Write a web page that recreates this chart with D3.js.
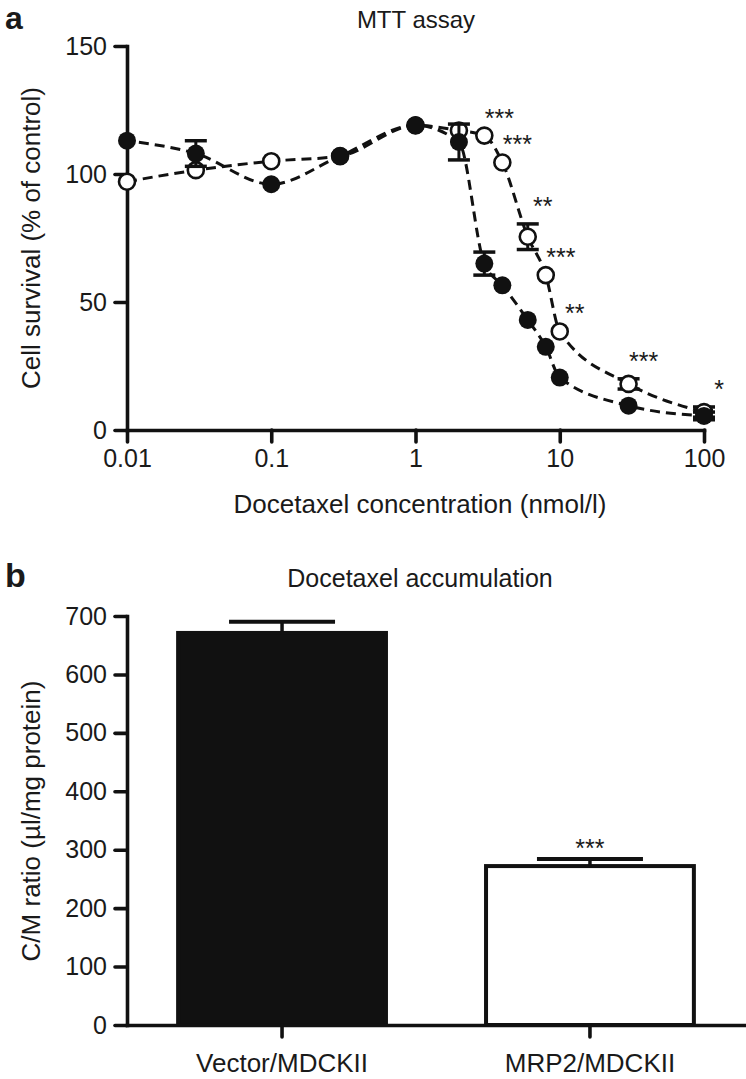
<!DOCTYPE html>
<html><head><meta charset="utf-8">
<script src="https://cdn.jsdelivr.net/npm/d3@7"></script>
<style>
html,body{margin:0;padding:0;background:#fff;}
svg text{font-family:"Liberation Sans",Arial,Helvetica,sans-serif;fill:#1a1a1a;}
</style></head>
<body>
<svg id="chart" width="746" height="1079"></svg>
<script>
// ---------- Panel a data ----------
const concentrations = [0.01, 0.03, 0.1, 0.3, 1, 2, 3, 4, 6, 8, 10, 30, 100];
const vectorSurvival = [113, 108, 96, 107, 119, 112.5, 65, 56.5, 43, 32.5, 20.5, 9.5, 5.5];
const vectorErr      = [0, 5, 0, 0, 0, 7, 4.5, 0, 0, 0, 0, 0, 1.5];
const mrp2Survival   = [97, 101.5, 105, 107, 119, 117, 115, 104.5, 75.5, 60.5, 38.5, 18, 7];
const mrp2Err        = [0, 0, 0, 0, 0, 0, 0, 0, 5, 0, 0, 2, 2];
const significance   = ['', '', '', '', '', '', '***', '***', '**', '***', '**', '***', '*'];
const xTickValues = [0.01, 0.1, 1, 10, 100];
const xTickLabels = ['0.01', '0.1', '1', '10', '100'];
const yTickValuesA = [0, 50, 100, 150];

// ---------- Panel b data ----------
const cellLines = ['Vector/MDCKII', 'MRP2/MDCKII'];
const cmRatio   = [671, 272];
const cmErr     = [19, 12];
const barSignificance = ['', '***'];
const yTickValuesB = [0, 100, 200, 300, 400, 500, 600, 700];

const svg = d3.select('#chart');
const ink = '#111';

function styleAxis(g, fs) {
  g.select('.domain').attr('stroke', ink).attr('stroke-width', 3.6).attr('stroke-linecap', 'square');
  g.selectAll('.tick line').attr('stroke', ink).attr('stroke-width', 3.6).attr('stroke-linecap', 'round');
  g.selectAll('.tick text').attr('font-size', fs).attr('fill', '#1a1a1a')
    .attr('font-family', '"Liberation Sans",Arial,sans-serif');
}

// ===== Panel a =====
const xA = d3.scaleLog().domain([0.01, 100]).range([127, 704]);
const yA = d3.scaleLinear().domain([0, 150]).range([430, 46]);

svg.append('text').attr('x', 5).attr('y', 29).attr('font-size', 32).attr('font-weight', 'bold').text('a');
svg.append('text').attr('x', 416).attr('y', 28).attr('text-anchor', 'middle').attr('font-size', 24).text('MTT assay');

const gxA = svg.append('g').attr('transform', 'translate(0,430)')
  .call(d3.axisBottom(xA).tickValues(xTickValues).tickFormat((d, i) => xTickLabels[i])
    .tickSize(12).tickSizeOuter(0).tickPadding(7));
styleAxis(gxA, 25);
const gyA = svg.append('g').attr('transform', 'translate(127,0)')
  .call(d3.axisLeft(yA).tickValues(yTickValuesA).tickSize(12).tickSizeOuter(0).tickPadding(8));
styleAxis(gyA, 25);

svg.append('text').attr('x', 420).attr('y', 513).attr('text-anchor', 'middle').attr('font-size', 26)
  .text('Docetaxel concentration (nmol/l)');
svg.append('text').attr('transform', 'translate(40,238) rotate(-90)').attr('text-anchor', 'middle')
  .attr('font-size', 26).text('Cell survival (% of control)');

const vecData = concentrations.map((c, i) => ({c, v: vectorSurvival[i], e: vectorErr[i]}));
const mrpData = concentrations.map((c, i) => ({c, v: mrp2Survival[i], e: mrp2Err[i], s: significance[i]}));

const line = d3.line().x(d => xA(d.c)).y(d => yA(d.v)).curve(d3.curveMonotoneX);

const plotA = svg.append('g');
plotA.append('path').datum(mrpData).attr('d', line).attr('fill', 'none').attr('stroke', ink)
  .attr('stroke-width', 3).attr('stroke-dasharray', '10,6');
plotA.append('path').datum(vecData).attr('d', line).attr('fill', 'none').attr('stroke', ink)
  .attr('stroke-width', 3).attr('stroke-dasharray', '10,6').attr('stroke-dashoffset', 4);

function errBars(g, data) {
  const eb = g.selectAll(null).data(data.filter(d => d.e > 0)).enter().append('g');
  eb.append('line').attr('x1', d => xA(d.c)).attr('x2', d => xA(d.c))
    .attr('y1', d => yA(d.v + d.e)).attr('y2', d => yA(d.v - d.e)).attr('stroke', ink).attr('stroke-width', 3);
  [1, -1].forEach(sg => {
    eb.append('line').attr('x1', d => xA(d.c) - 11).attr('x2', d => xA(d.c) + 11)
      .attr('y1', d => yA(d.v + sg * d.e)).attr('y2', d => yA(d.v + sg * d.e))
      .attr('stroke', ink).attr('stroke-width', 3.5);
  });
}
errBars(plotA, mrpData);
plotA.selectAll('circle.open').data(mrpData).enter().append('circle').attr('class', 'open')
  .attr('cx', d => xA(d.c)).attr('cy', d => yA(d.v)).attr('r', 8)
  .attr('fill', '#fff').attr('stroke', ink).attr('stroke-width', 2.6);
errBars(plotA, vecData);
plotA.selectAll('circle.filled').data(vecData).enter().append('circle').attr('class', 'filled')
  .attr('cx', d => xA(d.c)).attr('cy', d => yA(d.v)).attr('r', 9).attr('fill', ink);

plotA.selectAll('text.star').data(mrpData.filter(d => d.s)).enter().append('text').attr('class', 'star')
  .attr('x', d => xA(d.c) + 15).attr('y', d => yA(d.v + d.e) - 9)
  .attr('text-anchor', 'middle').attr('font-size', 25).text(d => d.s);

// ===== Panel b =====
const xB = d3.scaleBand().domain(cellLines).range([127, 745]).paddingInner(0.325).paddingOuter(0.166);
const yB = d3.scaleLinear().domain([0, 700]).range([1025, 616]);

svg.append('text').attr('x', 5).attr('y', 587).attr('font-size', 34).attr('font-weight', 'bold').text('b');
svg.append('text').attr('x', 420).attr('y', 587).attr('text-anchor', 'middle').attr('font-size', 25)
  .text('Docetaxel accumulation');
svg.append('text').attr('transform', 'translate(40,821) rotate(-90)').attr('text-anchor', 'middle')
  .attr('font-size', 26).text('C/M ratio (µl/mg protein)');

const barData = cellLines.map((k, i) => ({k, v: cmRatio[i], e: cmErr[i], s: barSignificance[i]}));
const bars = svg.append('g');
bars.selectAll('rect').data(barData).enter().append('rect')
  .attr('x', d => xB(d.k)).attr('width', xB.bandwidth())
  .attr('y', d => yB(d.v)).attr('height', d => yB(0) - yB(d.v))
  .attr('fill', (d, i) => i === 0 ? ink : '#fff').attr('stroke', ink).attr('stroke-width', 4);
bars.selectAll('line.stem').data(barData).enter().append('line')
  .attr('x1', d => xB(d.k) + xB.bandwidth() / 2).attr('x2', d => xB(d.k) + xB.bandwidth() / 2)
  .attr('y1', d => yB(d.v)).attr('y2', d => yB(d.v + d.e)).attr('stroke', ink).attr('stroke-width', 3.5);
bars.selectAll('line.cap').data(barData).enter().append('line')
  .attr('x1', d => xB(d.k) + xB.bandwidth() / 2 - 53).attr('x2', d => xB(d.k) + xB.bandwidth() / 2 + 53)
  .attr('y1', d => yB(d.v + d.e)).attr('y2', d => yB(d.v + d.e)).attr('stroke', ink).attr('stroke-width', 4);
bars.selectAll('text').data(barData.filter(d => d.s)).enter().append('text')
  .attr('x', d => xB(d.k) + xB.bandwidth() / 2).attr('y', d => yB(d.v + d.e) - 2)
  .attr('text-anchor', 'middle').attr('font-size', 25).text(d => d.s);

const gxB = svg.append('g').attr('transform', 'translate(0,1025)')
  .call(d3.axisBottom(xB).tickSize(12).tickSizeOuter(0).tickPadding(17));
styleAxis(gxB, 26);
const gyB = svg.append('g').attr('transform', 'translate(127,0)')
  .call(d3.axisLeft(yB).tickValues(yTickValuesB).tickSize(12).tickSizeOuter(0).tickPadding(8));
styleAxis(gyB, 25);
</script>
</body></html>
